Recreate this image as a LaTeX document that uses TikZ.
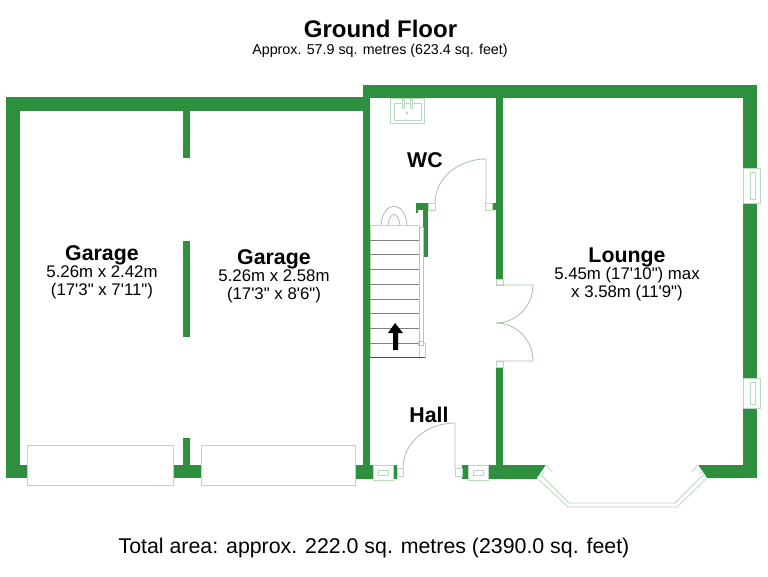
\documentclass[tikz,border=0pt]{standalone}
\usepackage{fontspec}
\setmainfont{Liberation Sans}[Ligatures=TeXOff]
\definecolor{wallgreen}{HTML}{2E8F3F}
\definecolor{fitting}{HTML}{B9D9BF}
\begin{document}
\begin{tikzpicture}[x=0.75pt, y=-0.75pt,
    wall/.style={fill=wallgreen, draw=none},
    fit/.style={draw=fitting, line width=0.6pt, fill=white},
    swing/.style={draw=fitting!70!gray, line width=0.6pt},
    tread/.style={draw=gray, line width=0.6pt},
    roomname/.style={font=\fontsize{16}{18}\selectfont\bfseries, inner sep=0pt},
    roomsize/.style={font=\fontsize{12.6}{13.5}\selectfont, align=center, inner sep=0pt}]
  \useasboundingbox (0,0) rectangle (768,576);

  % garage walls
  \fill[wall] (6,97) rectangle (363,111);
  \fill[wall] (6,97) rectangle (20,478);
  \fill[wall] (6,465) rectangle (27,478);
  \fill[wall] (173,465) rectangle (201,478);
  \fill[wall] (183,111) rectangle (190,158);
  \fill[wall] (183,241) rectangle (190,337);
  \fill[wall] (183,438) rectangle (190,465);

  % hall walls
  \fill[wall] (363,85) rectangle (757,98);
  \fill[wall] (363,85) rectangle (370,479);
  \fill[wall] (355,465) rectangle (397,479);
  \fill[wall] (462,465) rectangle (503,479);
  \fill[wall] (496,98) rectangle (503,279);
  \fill[wall] (492,203) rectangle (503,210);
  \fill[wall] (496,367) rectangle (503,479);
  \fill[wall] (416,203) rectangle (428,210);
  \fill[wall] (423,210) rectangle (428,257);
  \fill[wall] (416,210) rectangle (418,213);

  % lounge walls
  \fill[wall] (743,85) rectangle (757,478);
  \fill[wall] (503,465) -- (546,465) -- (537,479) -- (503,479) -- cycle;
  \fill[wall] (698,465) -- (743,465) -- (743,478) -- (707,478) -- cycle;

  % garage doors
  \draw[fit] (27,445) rectangle (173,485);
  \draw[fit] (201,445) rectangle (355,485);

  % side windows
  \foreach \ytop/\ybot in {168/203, 378/408} {
    \draw[fit] (743,\ytop) rectangle (760,\ybot);
    \draw[fit] (750,\ytop+4) rectangle (755,\ybot-4);
  }

  % front windows
  \foreach \xleft in {373, 468} {
    \draw[fit] (\xleft,465) rectangle (\xleft+20,480);
    \draw[fit] (\xleft+5,470) rectangle (\xleft+15,475);
  }

  % bay window
  \fill[white] (546,465) -- (572,494) -- (671,494) -- (698,465) -- (707,478) -- (677,507) -- (568,507) -- (537,478) -- cycle;
  \draw[fit] (546,465) -- (572,494) -- (671,494) -- (698,465);
  \draw[fit] (537,478) -- (568,507) -- (677,507) -- (707,478);
  \draw[fit] (542,472) -- (569,500) -- (674,500) -- (702,472);
  \draw[fit] (540,474) -- (569,503) -- (675,503) -- (704,474);

  % basin
  \draw[fit] (390,98) rectangle (424,123);
  \draw[fit] (394,103) rectangle (421,120);
  \draw[fit] (402,99) rectangle (404,108);
  \draw[fit] (410,99) rectangle (412,108);
  \draw[fit] (407,113) circle (1);

  % WC door
  \draw[fit] (428,203) rectangle (435,210);
  \draw[fit] (485,203) rectangle (492,210);
  \draw[swing] (435,203) arc[start angle=180, end angle=270, x radius=51, y radius=44] -- (486,203);

  % stairs
  \draw[swing] (381,225) .. controls (383,200) and (405,200) .. (407,225);
  \draw[swing] (388,225) .. controls (390,211) and (398,211) .. (400,225);
  \draw[fit] (370,225) rectangle (419,357);
  \foreach \ytread in {240,254,269,284,299,313,328,343} {
    \draw[tread] (370,\ytread) -- (419,\ytread);
  }
  \draw[fit] (419,343) rectangle (425,357);
  \draw[draw=lightgray, fill=white] (419,227) rectangle (423,345);
  \draw[draw=black!70, line width=0.7pt] (370,357) -- (425,357);
  \draw[draw=lightgray] (418,341) rectangle (423,345);
  \fill[black] (393,350) -- (393,333) -- (388,333) -- (395,323) -- (403,333) -- (398,333) -- (398,350) -- cycle;

  % double doors
  \draw[fit] (496,279) rectangle (503,285);
  \draw[fit] (496,361) rectangle (503,367);
  \draw[swing] (496,285) -- (533,285) arc[start angle=0, end angle=90, x radius=37, y radius=38];
  \draw[swing] (496,361) -- (533,361) arc[start angle=0, end angle=-90, x radius=37, y radius=38];

  % hall door
  \draw[fit] (397,468) rectangle (403,476);
  \draw[fit] (455,468) rectangle (462,476);
  \draw[swing] (403,468) arc[start angle=180, end angle=270, x radius=52, y radius=45] -- (455,468);

  % texts
  \node[font=\fontsize{18}{20}\selectfont\bfseries, inner sep=0pt] (title) at (380.5,29) {Ground Floor};
  \node[font=\fontsize{10.7}{12}\selectfont, inner sep=0pt] (subtitle) at (380,51) {Approx. 57.9 sq. metres (623.4 sq. feet)};
  \node[font=\fontsize{16}{18}\selectfont, inner sep=0pt] (total) at (374,548) {Total area: approx. 222.0 sq. metres (2390.0 sq. feet)};

  \node[roomname] (garageA) at (102,255) {Garage};
  \node[roomsize] (garageAsize) at (102,282) {5.26m x 2.42m\\(17'3" x 7'11")};
  \node[roomname] (garageB) at (274,259) {Garage};
  \node[roomsize] (garageBsize) at (274,286) {5.26m x 2.58m\\(17'3" x 8'6")};
  \node[roomname] (lounge) at (627,257) {Lounge};
  \node[roomsize] (loungesize) at (627,284) {5.45m (17'10") max\\x 3.58m (11'9")};
  \node[roomname] (wc) at (425,160) {WC};
  \node[roomname] (hall) at (429,415) {Hall};
\end{tikzpicture}
\end{document}
